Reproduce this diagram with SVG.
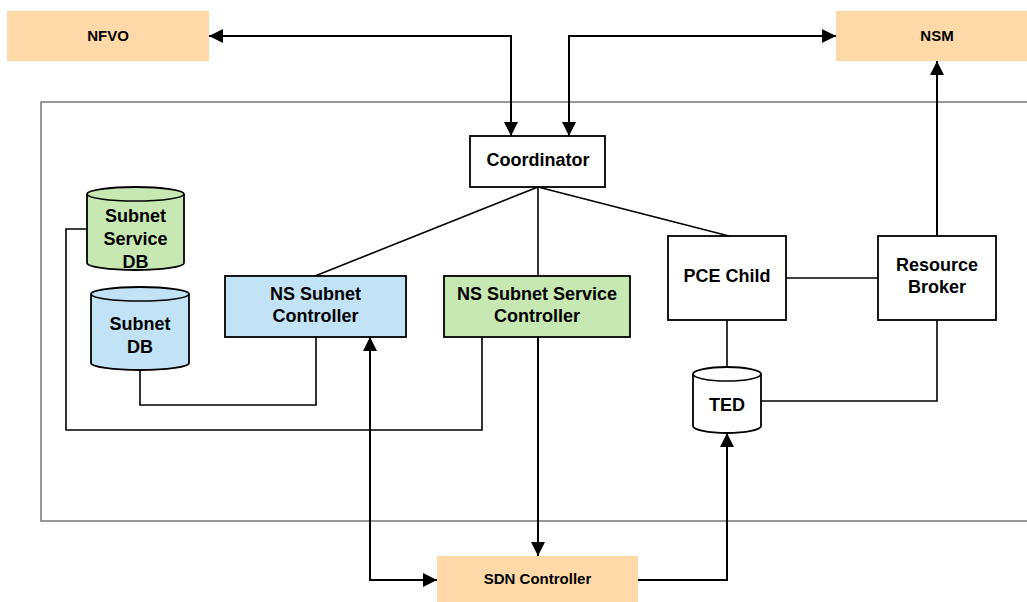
<svg xmlns="http://www.w3.org/2000/svg" width="1027" height="602" viewBox="0 0 1027 602">
<defs>
<marker id="ah" viewBox="0 0 10 10" refX="10" refY="5" markerWidth="14" markerHeight="14" markerUnits="userSpaceOnUse" orient="auto-start-reverse">
<path d="M0,0 L10,5 L0,10 z" fill="#000"/>
</marker>
<style>
.ext{fill:#FFDAA8;stroke:none}
.box{fill:#fff;stroke:#000;stroke-width:1.8}
.blue{fill:#C2E3F6;stroke:#000;stroke-width:1.8}
.green{fill:#C7E8B2;stroke:#000;stroke-width:1.8}
.t{font-family:"Liberation Sans",Arial,sans-serif;font-weight:bold;fill:#000;text-anchor:middle}
.big{font-size:18px}
.small{font-size:15px}
.ln{fill:none;stroke:#000;stroke-width:1.6}
.ar{fill:none;stroke:#000;stroke-width:2}
</style>
</defs>
<rect width="1027" height="602" fill="#fff"/>
<rect x="41" y="102" width="1000" height="419" fill="none" stroke="#777" stroke-width="1.5"/>
<g id="connectors">
<path class="ar" d="M511,136 V36 H209" marker-start="url(#ah)" marker-end="url(#ah)"/>
<path class="ar" d="M569,136 V36 H836" marker-start="url(#ah)" marker-end="url(#ah)"/>
<path class="ln" d="M538,187 L315,276"/>
<path class="ln" d="M538,187 V276"/>
<path class="ln" d="M538,187 L729,236"/>
<path class="ln" d="M786,278 H878"/>
<path class="ar" d="M937,236 V61" marker-end="url(#ah)"/>
<path class="ln" d="M727,320 V367"/>
<path class="ln" d="M761,401 H937 V320"/>
<path class="ar" d="M538,337 V556" marker-end="url(#ah)"/>
<path class="ar" d="M370,337 V580 H437" marker-start="url(#ah)" marker-end="url(#ah)"/>
<path class="ar" d="M638,580 H727 V433" marker-end="url(#ah)"/>
<path class="ln" d="M140,370 V405 H316 V337"/>
<path class="ln" d="M87,229 H66 V430 H482 V337"/>
</g>
<g id="nfvo"><rect class="ext" x="7" y="11" width="202" height="50"/><text class="t small" x="108" y="41">NFVO</text></g>
<g id="nsm"><rect class="ext" x="836" y="11" width="191" height="50"/><text class="t small" x="937" y="41">NSM</text></g>
<g id="coordinator"><rect class="box" x="470" y="136" width="135" height="51"/><text class="t big" x="538" y="166">Coordinator</text></g>
<g id="subnet-service-db">
<path class="green" d="M87,194 V263 A48.5,7 0 0 0 184,263 V194 A48.5,7 0 0 0 87,194 Z"/>
<path class="ln" d="M87,194 A48.5,7 0 0 0 184,194"/>
<text class="t big" x="135.5" y="222">Subnet</text><text class="t big" x="135.5" y="245">Service</text><text class="t big" x="135.5" y="268">DB</text>
</g>
<g id="subnet-db">
<path class="blue" d="M91,294 V363 A49,7 0 0 0 189,363 V294 A49,7 0 0 0 91,294 Z"/>
<path class="ln" d="M91,294 A49,7 0 0 0 189,294"/>
<text class="t big" x="140" y="330">Subnet</text><text class="t big" x="140" y="353">DB</text>
</g>
<g id="ns-subnet-controller"><rect class="blue" x="225" y="276" width="181" height="61"/><text class="t big" x="315.5" y="300">NS Subnet</text><text class="t big" x="315.5" y="322">Controller</text></g>
<g id="ns-subnet-service-controller"><rect class="green" x="444" y="276" width="186" height="61"/><text class="t big" x="537" y="300">NS Subnet Service</text><text class="t big" x="537" y="322">Controller</text></g>
<g id="pce-child"><rect class="box" x="668" y="236" width="118" height="84"/><text class="t big" x="727" y="282">PCE Child</text></g>
<g id="resource-broker"><rect class="box" x="878" y="236" width="118" height="84"/><text class="t big" x="937" y="271">Resource</text><text class="t big" x="937" y="293">Broker</text></g>
<g id="ted">
<path class="box" d="M693,374 V426 A34,7 0 0 0 761,426 V374 A34,7 0 0 0 693,374 Z"/>
<path class="ln" d="M693,374 A34,7 0 0 0 761,374"/>
<text class="t big" x="727" y="411">TED</text>
</g>
<g id="sdn-controller"><rect class="ext" x="437" y="556" width="201" height="46"/><text class="t small" x="537.5" y="584">SDN Controller</text></g>
</svg>
